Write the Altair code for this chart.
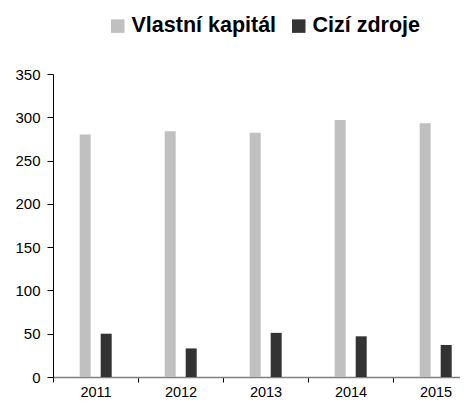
import altair as alt
import pandas as pd

years = ["2011", "2012", "2013", "2014", "2015"]
vlastni = [280, 284, 282, 297, 293]
cizi = [50, 33, 51, 47, 37]
series = ["Vlastní kapitál", "Cizí zdroje"]
colors = ["#C0C0C0", "#333333"]
y_ticks = [0, 50, 100, 150, 200, 250, 300, 350]

rows = []
for i, yr in enumerate(years):
    rows.append({"year": yr, "series": series[0], "value": vlastni[i]})
    rows.append({"year": yr, "series": series[1], "value": cizi[i]})
df = pd.DataFrame(rows)

FONT = "Liberation Sans"

chart = alt.Chart(df).mark_bar().encode(
    x=alt.X("year:N", sort=years, title=None,
            scale=alt.Scale(range=[0, 425], paddingInner=0, paddingOuter=0),
            axis=alt.Axis(labelAngle=0, tickBand="extent", domainColor="#808080",
                          tickColor="#000000", tickSize=5, labelFontSize=14.5,
                          labelFont=FONT, labelColor="#000000", labelPadding=3,
                          domainWidth=1.7)),
    xOffset=alt.XOffset("series:N", sort=series,
                        scale=alt.Scale(range=[26.7, 58.7], paddingInner=0.476,
                                        paddingOuter=0)),
    y=alt.Y("value:Q", title=None,
            scale=alt.Scale(domain=[0, 350], nice=False),
            axis=alt.Axis(values=y_ticks, grid=False, domainColor="#000000",
                          tickColor="#000000", tickSize=6, labelFontSize=15,
                          labelFont=FONT, labelColor="#000000", labelPadding=7)),
    color=alt.Color("series:N", sort=series,
                    scale=alt.Scale(domain=series, range=colors),
                    legend=alt.Legend(title=None, orient="none", direction="horizontal",
                                      legendX=54, legendY=-59, symbolType="square",
                                      symbolSize=182, symbolStrokeWidth=0,
                                      labelFontSize=21.5, labelFont=FONT,
                                      labelFontWeight="bold", labelColor="#000000",
                                      labelOffset=3, columnPadding=11, padding=0)),
).properties(
    width=407,
    height=303,
    autosize=alt.AutoSizeParams(type="none"),
    padding={"left": 45, "top": 66, "right": 0, "bottom": 21},
).configure_view(stroke=None)

chart.save("out.html", embed_options={"renderer": "svg", "actions": False})
